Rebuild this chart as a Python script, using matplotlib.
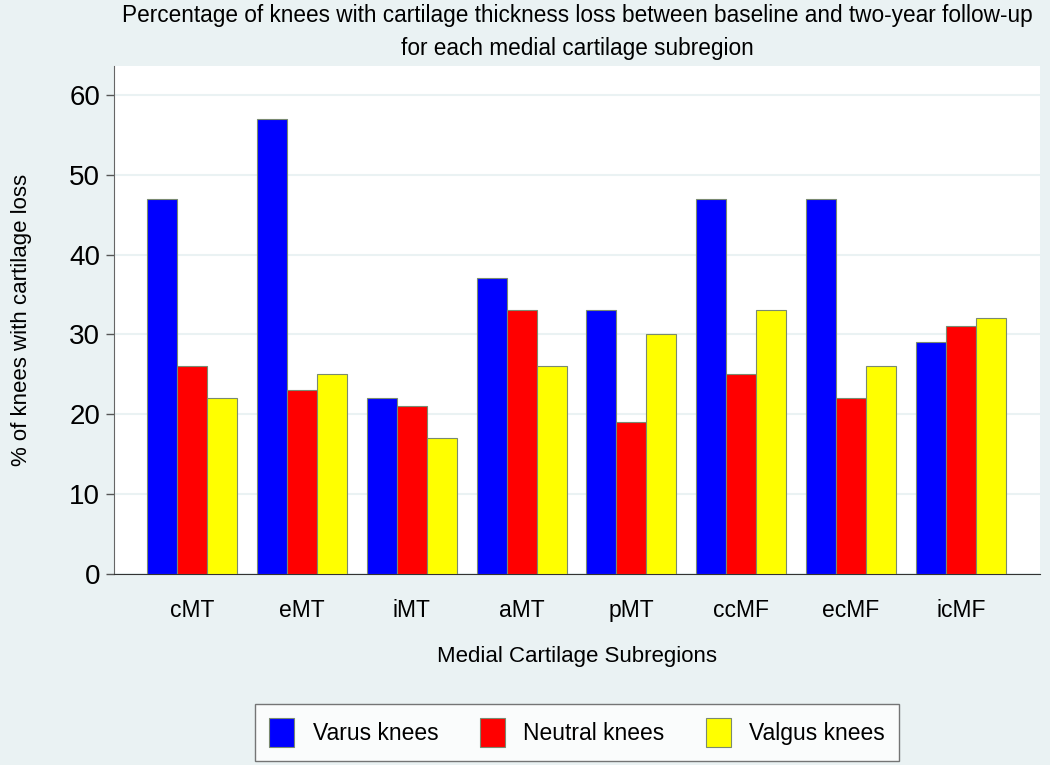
import numpy as np
import matplotlib.pyplot as plt

plt.rcParams['font.family'] = ['Liberation Sans', 'DejaVu Sans']

# % of knees with cartilage loss per medial subregion
regions = ['cMT', 'eMT', 'iMT', 'aMT', 'pMT', 'ccMF', 'ecMF', 'icMF']
varus = [47, 57, 22, 37, 33, 47, 47, 29]
neutral = [26, 23, 21, 33, 19, 25, 22, 31]
valgus = [22, 25, 17, 26, 30, 33, 26, 32]

series = [('Varus knees', varus, '#0000ff'),
          ('Neutral knees', neutral, '#ff0000'),
          ('Valgus knees', valgus, '#ffff00')]

bg = '#eaf2f3'
fig = plt.figure(figsize=(10.5, 7.65), dpi=100, facecolor=bg)
ax = fig.add_axes([114 / 1050, 1 - 574 / 765, (1040 - 114) / 1050, (574 - 66) / 765])
ax.set_facecolor('white')

x = np.arange(len(regions))
w = 0.273
for i, (name, vals, col) in enumerate(series):
    ax.bar(x + (i - 1) * w, vals, w, color=col, edgecolor='#7a8a70',
           linewidth=0.8, label=name, zorder=3)

ax.set_xlim(-0.71, 7.72)
ax.set_ylim(0, 63.6)
ax.set_yticks([0, 10, 20, 30, 40, 50, 60])
ax.grid(axis='y', color=bg, linewidth=1.5, zorder=0)
ax.tick_params(axis='y', labelsize=20, length=6, width=1, color='#555555', pad=4)
ax.tick_params(axis='x', labelsize=16.5, length=0, pad=18)
ax.set_xticks(x)
ax.set_xticklabels(regions)

for s in ['top', 'right']:
    ax.spines[s].set_visible(False)
ax.spines['left'].set_color('#666666')
ax.spines['bottom'].set_color('#333333')

ax.set_ylabel('% of knees with cartilage loss', fontsize=16)
ax.yaxis.set_label_coords(-0.1, 0.5)
ax.set_xlabel('Medial Cartilage Subregions', fontsize=16)
ax.xaxis.set_label_coords(0.5, -0.162)
ax.xaxis.label.set_va('center')
ax.yaxis.label.set_va('center')

fig.text(577 / 1050, 1 - 22 / 765,
         'Percentage of knees with cartilage thickness loss between baseline and two-year follow-up',
         ha='center', va='baseline', fontsize=16.3)
fig.text(577 / 1050, 1 - 55 / 765, 'for each medial cartilage subregion',
         ha='center', va='baseline', fontsize=16.3)

leg = ax.legend(loc='upper center', bbox_to_anchor=(0.5, -0.256), ncol=3, fontsize=16.5,
                frameon=True, fancybox=False, edgecolor='#555555',
                handlelength=1.1, handleheight=1.6, handletextpad=0.8, columnspacing=1.8,
                borderpad=0.6, borderaxespad=0)
leg.get_frame().set_linewidth(1)

fig.savefig('out.png', dpi=100, facecolor=bg)
